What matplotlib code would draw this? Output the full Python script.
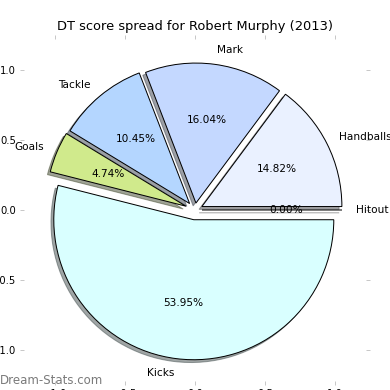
import matplotlib
matplotlib.use("Agg")
import matplotlib.pyplot as plt

labels = ["Hitout", "Handballs", "Mark", "Tackle", "Goals", "Kicks"]
values = [0.00, 14.82, 16.04, 10.45, 4.74, 53.95]
colors = ["#F5F5F5", "#EAF1FF", "#C4D8FF", "#B4D6FF", "#D0EA8C", "#D9FFFF"]
explode = [0.05, 0.055, 0.05, 0.06, 0.07, 0.07]
ticks = [-1.0, -0.5, 0.0, 0.5, 1.0]
title = "DT score spread for Robert Murphy (2013)"

plt.rcParams['font.family'] = ['DejaVu Sans']
fig = plt.figure(figsize=(390/72, 390/72), dpi=72)
ax = fig.add_axes([20/390, 5/390, 350/390, 350/390])

wedges, texts, autotexts = ax.pie(values, labels=labels, colors=colors, explode=explode,
                                  autopct='%1.2f%%', shadow=True, startangle=0,
                                  frame=True,
                                  wedgeprops=dict(edgecolor='black', linewidth=1),
                                  textprops=dict(fontsize=10.5))
ax.set_xlim(-1.25, 1.25)
ax.set_ylim(-1.25, 1.25)
ax.set_aspect('equal')
for s in ax.spines.values():
    s.set_visible(False)
ax.set_xticks(ticks)
ax.set_yticks(ticks)
ax.tick_params(direction='in', length=4, color='#bbbbbb', labelsize=10,
               top=True, right=True, pad=4)
ax.set_title(title, fontsize=13, pad=5)
fig.text(0.0, 10/390, "Dream-Stats.com", color='#7a7a7a', fontsize=11.7, ha='left', va='center')
fig.savefig("out.png", dpi=72)
